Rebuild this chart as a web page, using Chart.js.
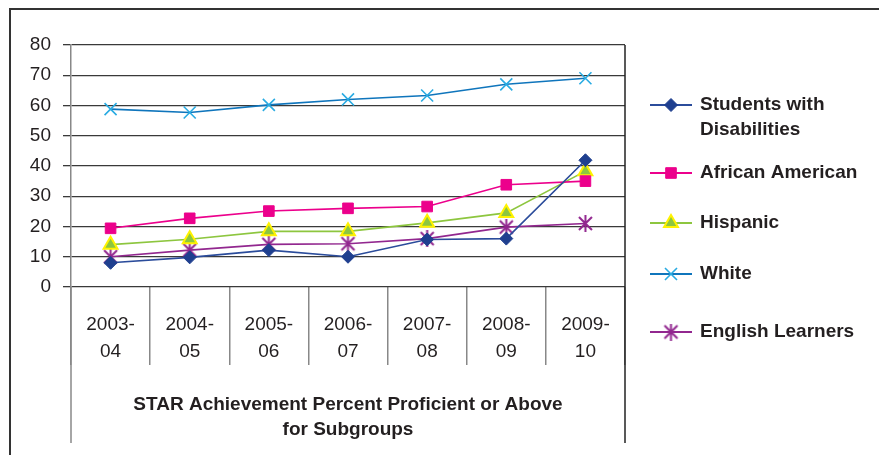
<!DOCTYPE html>
<html>
<head>
<meta charset="utf-8">
<script src="https://cdn.jsdelivr.net/npm/chart.js@4/dist/chart.umd.min.js"></script>
<style>
  html, body { margin: 0; padding: 0; background: #fff; }
  #wrap { width: 879px; height: 455px; }
</style>
</head>
<body>
<div id="wrap"><canvas id="starChart" width="879" height="455"></canvas></div>
<script>
const years = [["2003-", "04"], ["2004-", "05"], ["2005-", "06"], ["2006-", "07"], ["2007-", "08"], ["2008-", "09"], ["2009-", "10"]];
const disabilities = [8.0, 9.8, 12.2, 10.0, 15.7, 16.0, 41.9];
const africanAmerican = [19.4, 22.7, 25.1, 26.0, 26.6, 33.8, 35.0];
const hispanic = [14.0, 15.8, 18.4, 18.4, 21.2, 24.5, 38.3];
const white = [58.8, 57.7, 60.2, 62.0, 63.3, 67.0, 69.0];
const englishLearners = [10.0, 12.2, 14.1, 14.3, 16.0, 19.8, 21.0];
const yTicks = [0, 10, 20, 30, 40, 50, 60, 70, 80];
const axisTitle = ["STAR Achievement Percent Proficient or Above", "for Subgroups"];
const legendNames = [["Students with", "Disabilities"], ["African American"], ["Hispanic"], ["White"], ["English Learners"]];

const FONT = "'Liberation Sans', Arial, sans-serif";

// asterisk marker (x plus vertical bar) for English Learners
function asteriskMarker(color) {
  const c = document.createElement("canvas");
  c.width = 17; c.height = 17;
  const g = c.getContext("2d");
  g.strokeStyle = color;
  g.lineWidth = 2;
  g.beginPath();
  g.moveTo(2, 2); g.lineTo(15, 15);
  g.moveTo(15, 2); g.lineTo(2, 15);
  g.moveTo(8.5, 0); g.lineTo(8.5, 17);
  g.stroke();
  return c;
}

// frame, table lines and the legend (line + marker like the original)
const decorations = {
  id: "decorations",
  afterDraw(chart) {
    const ctx = chart.ctx;
    const a = chart.chartArea;
    ctx.save();
    ctx.strokeStyle = "#333";
    ctx.lineWidth = 2;
    ctx.strokeRect(10, 9, 900, 500);

    ctx.lineWidth = 1.5;
    ctx.strokeStyle = "#888";
    ctx.beginPath();
    ctx.moveTo(a.left, a.bottom); ctx.lineTo(a.left, 443);
    ctx.stroke();
    ctx.strokeStyle = "#222";
    ctx.beginPath();
    ctx.moveTo(a.right, a.top); ctx.lineTo(a.right, 443);
    ctx.stroke();

    const rows = [105, 173, 223, 274, 332];
    chart.data.datasets.forEach((ds, i) => {
      const y = rows[i];
      ctx.strokeStyle = ds.borderColor;
      ctx.lineWidth = 2;
      ctx.beginPath();
      ctx.moveTo(650, y); ctx.lineTo(692, y);
      ctx.stroke();
      ctx.fillStyle = ds.pointBackgroundColor;
      ctx.strokeStyle = ds.pointBorderColor;
      ctx.lineWidth = ds.pointBorderWidth;
      Chart.helpers.drawPoint(ctx, {
        pointStyle: ds.pointStyle,
        radius: ds.pointRadius,
        borderWidth: ds.pointBorderWidth,
        rotation: 0
      }, 671, y);
      ctx.fillStyle = "#231f20";
      ctx.font = "bold 19px " + FONT;
      ctx.textBaseline = "middle";
      ctx.textAlign = "left";
      legendNames[i].forEach((t, k) => ctx.fillText(t, 700, y + k * 25));
    });
    ctx.restore();
  }
};

const ctx = document.getElementById("starChart").getContext("2d");
const starChart = new Chart(ctx, {
  type: "line",
  data: {
    labels: years,
    datasets: [
      {
        label: "Students with Disabilities",
        data: disabilities,
        borderColor: "#2b4c9b",
        borderWidth: 1.6,
        pointStyle: "rectRot",
        pointRadius: 6.5,
        pointBackgroundColor: "#1f3f8f",
        pointBorderColor: "#1f3f8f",
        pointBorderWidth: 1
      },
      {
        label: "African American",
        data: africanAmerican,
        borderColor: "#ec008c",
        borderWidth: 1.6,
        pointStyle: "rect",
        pointRadius: 7.5,
        pointBackgroundColor: "#ec008c",
        pointBorderColor: "#ec008c",
        pointBorderWidth: 1
      },
      {
        label: "Hispanic",
        data: hispanic,
        borderColor: "#8dc63f",
        borderWidth: 1.6,
        pointStyle: "triangle",
        pointRadius: 8,
        pointBackgroundColor: "#8dc63f",
        pointBorderColor: "#fff200",
        pointBorderWidth: 2
      },
      {
        label: "White",
        data: white,
        borderColor: "#0f75bc",
        borderWidth: 1.6,
        pointStyle: "crossRot",
        pointRadius: 8.5,
        pointBackgroundColor: "#29abe2",
        pointBorderColor: "#29abe2",
        pointBorderWidth: 1.6
      },
      {
        label: "English Learners",
        data: englishLearners,
        borderColor: "#92278f",
        borderWidth: 1.6,
        pointStyle: asteriskMarker("#92278f"),
        pointRadius: 8,
        pointBackgroundColor: "#92278f",
        pointBorderColor: "#92278f",
        pointBorderWidth: 1
      }
    ]
  },
  options: {
    responsive: false,
    animation: false,
    layout: { padding: { top: 45, right: 254, bottom: 0, left: 0 } },
    plugins: {
      legend: { display: false },
      tooltip: { enabled: false }
    },
    elements: { line: { tension: 0 } },
    scales: {
      x: {
        offset: true,
        grid: {
          drawOnChartArea: false,
          offset: true,
          tickLength: 78,
          color: "#888",
          lineWidth: 1.5
        },
        border: { display: false },
        ticks: {
          maxRotation: 0,
          padding: -54,
          color: "#231f20",
          font: { family: FONT, size: 19, lineHeight: 1.42 }
        },
        title: {
          display: true,
          text: axisTitle,
          color: "#231f20",
          font: { family: FONT, size: 19, weight: "bold", lineHeight: 1.32 },
          padding: { top: 0, bottom: 13 }
        },
        afterFit(scale) { scale.height = 168; }
      },
      y: {
        min: 0,
        max: 80,
        afterBuildTicks(scale) { scale.ticks = yTicks.map(v => ({ value: v })); },
        grid: {
          color: "#3a3a3a",
          lineWidth: 1.3,
          tickLength: 8
        },
        border: { color: "#888", width: 1.5 },
        ticks: {
          padding: 12,
          color: "#231f20",
          font: { family: FONT, size: 19 }
        },
        afterFit(scale) { scale.width = 71; }
      }
    }
  },
  plugins: [decorations]
});
</script>
</body>
</html>
